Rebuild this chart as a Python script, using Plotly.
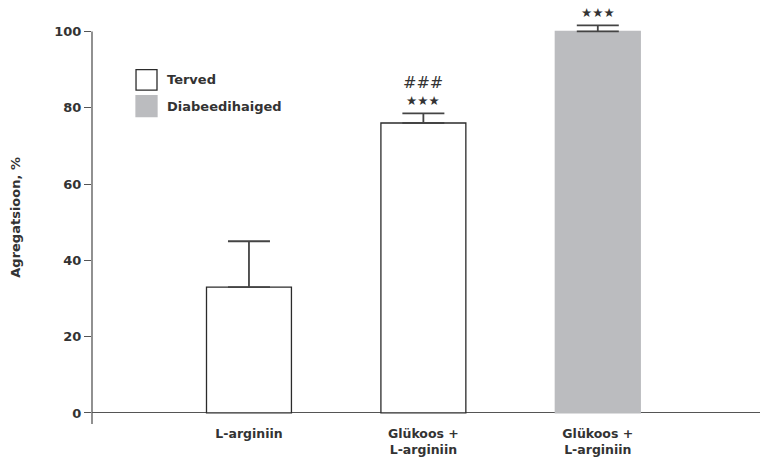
import plotly.graph_objects as go

# Aggregation (%) per treatment group, mean and upper error
categories = ["L-arginiin", "Glükoos +<br>L-arginiin", "Glükoos +<br>L-arginiin"]
positions = [0, 1, 2]
values = [33, 76, 100]
errors = [12, 2.5, 1.6]
groups = ["Terved", "Terved", "Diabeedihaiged"]
significance = ["", "★★★", "★★★"]
significance_hash = ["", "###", ""]

y_title = "Agregatsioon, %"
yticks = [0, 20, 40, 60, 80, 100]
y_axis_top = 100          # visible axis line ends at the top tick
y_range = [-2.9, 103]     # a little headroom so the top error cap is drawn

FONT = "DejaVu Sans"
AXIS = "#555555"
EDGE = "#2b2b2b"
GREY = "#bbbcbf"

W, H = 760, 462
px_per_unit = 393 / (y_axis_top - y_range[0])
bottom = 38
top = 31 - (y_range[1] - y_axis_top) * px_per_unit
MARGIN = dict(l=92, r=0, t=top, b=bottom)

fill = {"Terved": "white", "Diabeedihaiged": GREY}
line = {"Terved": EDGE, "Diabeedihaiged": GREY}

fig = go.Figure()
for g in ["Terved", "Diabeedihaiged"]:
    idx = [i for i, gg in enumerate(groups) if gg == g]
    fig.add_trace(go.Bar(
        x=[positions[i] for i in idx],
        y=[values[i] for i in idx],
        name=g,
        width=0.487,
        marker=dict(color=fill[g], line=dict(color=line[g], width=1.3)),
        error_y=dict(type="data", symmetric=False,
                     array=[errors[i] for i in idx],
                     arrayminus=[0] * len(idx),
                     color="#444444", thickness=1.8, width=21),
        showlegend=False,
    ))

# significance marks above the error caps
for i in range(len(values)):
    cap = values[i] + errors[i]
    if significance[i]:
        fig.add_annotation(x=positions[i], y=cap, text=significance[i],
                           showarrow=False, yanchor="middle", yshift=13,
                           font=dict(family=FONT, size=12.5, color="#333333"))
    if significance_hash[i]:
        fig.add_annotation(x=positions[i], y=cap, text=significance_hash[i],
                           showarrow=False, yanchor="middle", yshift=31,
                           font=dict(family=FONT, size=16, color="#333333"))

# vertical axis line, stopping at the top tick
fig.add_shape(type="line", xref="paper", yref="y", x0=0, x1=0,
              y0=y_range[0], y1=y_axis_top,
              line=dict(color=AXIS, width=1.3))

# y axis title
fig.add_annotation(xref="paper", yref="paper", x=-0.1138, y=0.513,
                   text=f"<b>{y_title}</b>", textangle=-90, showarrow=False,
                   xanchor="center", yanchor="middle",
                   font=dict(family=FONT, size=13, color="#333333"))

# legend boxes and labels
legend_rows = [("Terved", 90.0, 84.6), ("Diabeedihaiged", 83.2, 77.7)]
for name, y1, y0 in legend_rows:
    fig.add_shape(type="rect", xref="paper", yref="y",
                  x0=0.0659, x1=0.0973, y0=y0, y1=y1,
                  fillcolor=fill[name],
                  line=dict(color=EDGE if name == "Terved" else GREY, width=1.3))
    fig.add_annotation(xref="paper", yref="y", x=0.1093, y=(y0 + y1) / 2,
                       xanchor="left", yanchor="middle", showarrow=False,
                       text=f"<b>{name}</b>",
                       font=dict(family=FONT, size=13, color="#333333"))

fig.update_layout(
    width=W, height=H,
    margin=MARGIN,
    paper_bgcolor="white", plot_bgcolor="white",
    barmode="overlay",
    font=dict(family=FONT, color="#333333"),
    xaxis=dict(range=[-0.9, 2.93], tickvals=positions,
               ticktext=[f"<b>{c}</b>" for c in categories],
               tickfont=dict(family=FONT, size=12.5, color="#333333"),
               showline=False, showgrid=False, zeroline=False, ticks="",
               automargin=False),
    yaxis=dict(range=y_range, tickvals=yticks,
               ticktext=[f"<b>{t}</b>" for t in yticks],
               tickfont=dict(family=FONT, size=13, color="#333333"),
               ticks="outside", ticklen=7, tickcolor=AXIS, tickwidth=1.3,
               showline=False,
               showgrid=False, zeroline=True, zerolinecolor=AXIS,
               zerolinewidth=1.3, automargin=False),
)

fig.write_html("out.html")
